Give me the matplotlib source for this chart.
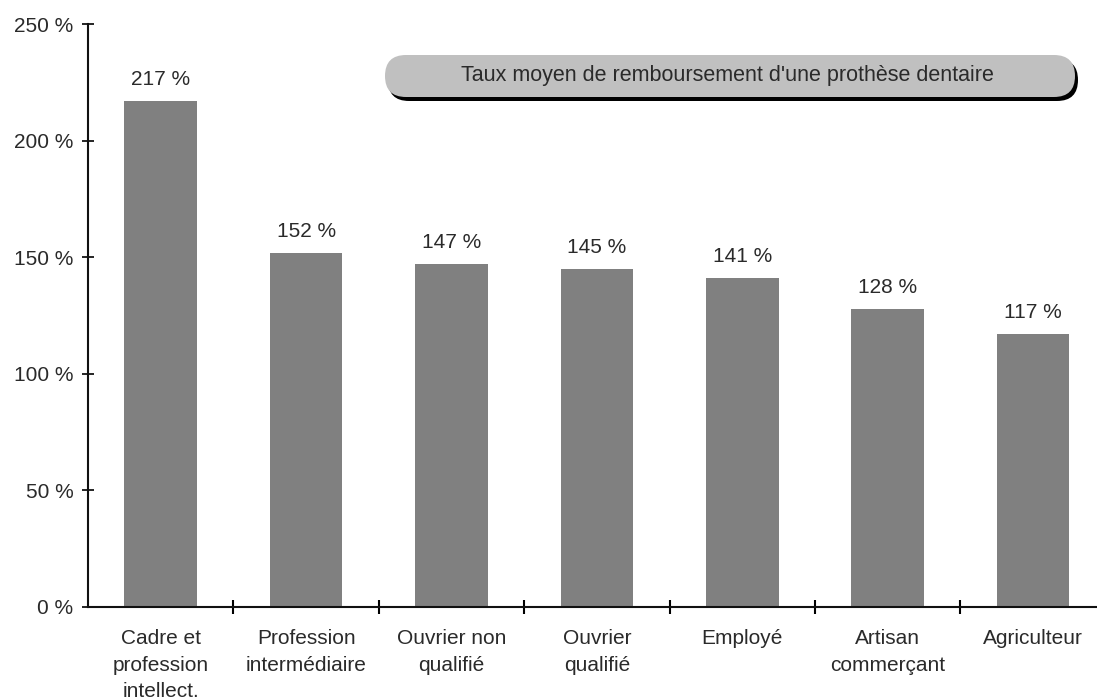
import matplotlib.pyplot as plt
from matplotlib.patches import FancyBboxPatch

plt.rcParams['font.family'] = ['Liberation Sans', 'DejaVu Sans']

categories = ['Cadre et\nprofession\nintellect.', 'Profession\nintermédiaire',
              'Ouvrier non\nqualifié', 'Ouvrier\nqualifié', 'Employé',
              'Artisan\ncommerçant', 'Agriculteur']
values = [217, 152, 147, 145, 141, 128, 117]
yticks = [0, 50, 100, 150, 200, 250]
title = "Taux moyen de remboursement d'une prothèse dentaire"

txt = '#2a2a2a'

fig = plt.figure(figsize=(10.97, 6.98), dpi=100)
ax = fig.add_axes([88/1097, 91/698, 1 - 88/1097, 583/698])

x = list(range(len(values)))
ax.bar(x, values, width=0.5, color='#808080')
for xi, v in zip(x, values):
    ax.annotate(f'{v} %', (xi, v), xytext=(0, 12), textcoords='offset pixels',
                ha='center', va='bottom', fontsize=15, color=txt)

ax.set_xlim(-0.5, 6.44)
ax.set_ylim(0, 250)
ax.set_yticks(yticks)
ax.set_yticklabels([f'{t} %' for t in yticks], fontsize=15, color=txt)
ax.set_xticks(x)
ax.set_xticklabels(categories, fontsize=15, color=txt, linespacing=1.5)
ax.set_xticks([i + 0.5 for i in x[:-1]], minor=True)

ax.tick_params(axis='y', direction='inout', length=9, width=1.2, pad=6)
ax.tick_params(axis='x', which='major', length=0, pad=16)
ax.tick_params(axis='x', which='minor', direction='inout', length=10, width=1.5)

for s in ['top', 'right']:
    ax.spines[s].set_visible(False)
for s in ['left', 'bottom']:
    ax.spines[s].set_linewidth(1.5)
    ax.spines[s].set_color('#111111')

# boîte du titre avec ombre
bx, by, bw, bh = 385/1097, 601/698, 690/1097, 42/698
asp = 1097/698
rs = 21/1097
shadow = FancyBboxPatch((bx + 3/1097, by - 4/698), bw, bh,
                        boxstyle=f'round,pad=0,rounding_size={rs}',
                        mutation_aspect=asp, transform=fig.transFigure,
                        facecolor='black', edgecolor='none')
box = FancyBboxPatch((bx, by), bw, bh,
                     boxstyle=f'round,pad=0,rounding_size={rs}',
                     mutation_aspect=asp, transform=fig.transFigure,
                     facecolor='#c0c0c0', edgecolor='none')
fig.patches.extend([shadow, box])
fig.text(bx + bw/2 - 3/1097, by + bh/2 + 1/698, title, ha='center', va='center',
         fontsize=15.5, color=txt)

fig.savefig('out.png', dpi=100)
